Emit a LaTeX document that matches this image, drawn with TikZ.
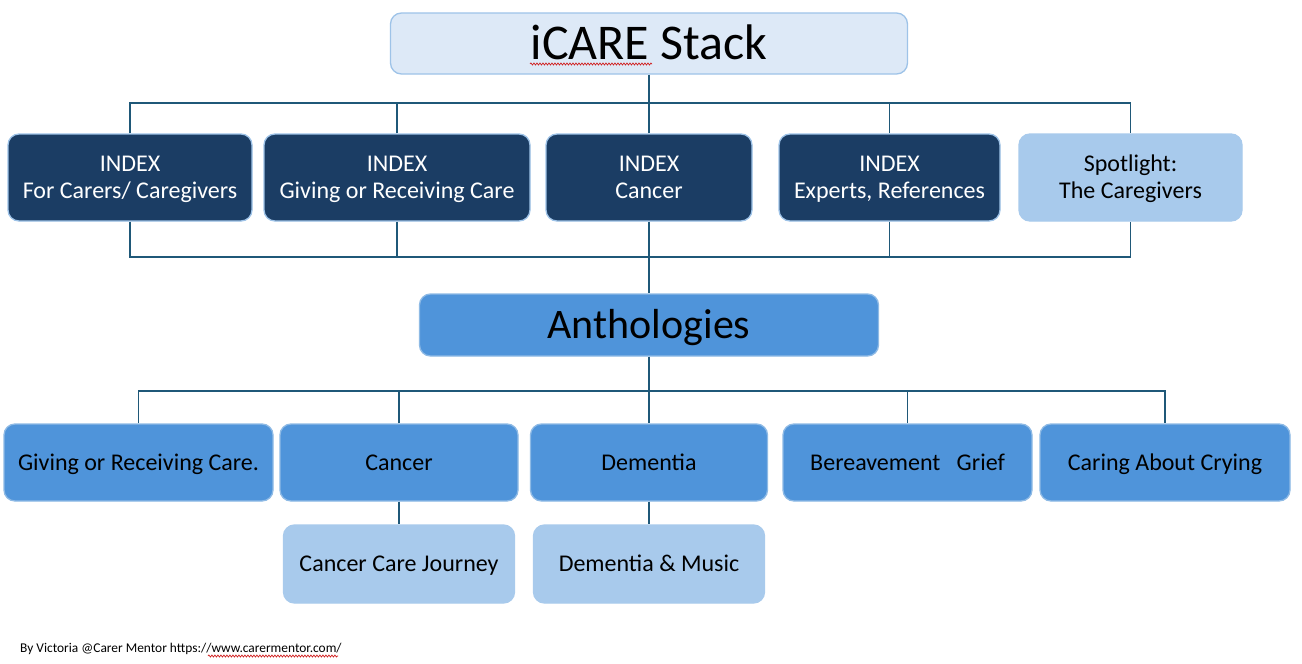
\documentclass[tikz,border=0pt]{standalone}
\usepackage{fontspec}
\setmainfont{Carlito}
\usetikzlibrary{decorations.pathmorphing}
\definecolor{navy}{HTML}{1B3D64}
\definecolor{midblue}{HTML}{4F94DA}
\definecolor{lightblue}{HTML}{A8CAEC}
\definecolor{paleblue}{HTML}{DDE9F7}
\definecolor{edgeblue}{HTML}{9EC3E8}
\definecolor{connblue}{HTML}{1F5878}
\definecolor{squig}{HTML}{D02020}
\newcommand{\capstrut}{\rule[-0.26em]{0pt}{1.16em}}
\newcommand{\topstrut}{\rule{0pt}{1em}}
\newcommand{\botstrut}{\rule[-0.36em]{0pt}{0pt}}
\begin{document}
\begin{tikzpicture}[x=1pt,y=-1pt,
  box/.style={rectangle,rounded corners=11pt,line width=1.3pt,draw=edgeblue,align=center,inner sep=0pt},
  titlebox/.style={box,fill=paleblue,font=\fontsize{50}{56}\selectfont},
  indexbox/.style={box,fill=navy,text=white,font=\fontsize{24}{27}\selectfont},
  spotbox/.style={box,fill=lightblue,draw=lightblue,text=black,font=\fontsize{24}{27}\selectfont},
  anthbox/.style={box,fill=midblue,draw=edgeblue!80!midblue,font=\fontsize{42}{48}\selectfont},
  catbox/.style={box,fill=midblue,draw=edgeblue!80!midblue,font=\fontsize{24}{28}\selectfont},
  subbox/.style={box,fill=lightblue,draw=lightblue,font=\fontsize{24}{28}\selectfont},
  conn/.style={draw=connblue,line width=1.8pt},
  spell/.style={draw=squig,line width=0.7pt,decorate,decoration={snake,amplitude=1pt,segment length=3pt}}]
\useasboundingbox (0,0) rectangle (1302,664);
\fill[white] (0,0) rectangle (1302,664);

% title
\node[titlebox,minimum width=517pt,minimum height=61pt] (title) at (649,43.5) {\capstrut iCARE Stack};

% row 1
\node[indexbox,minimum width=244pt,minimum height=87pt] (b1) at (130,177.5) {\topstrut INDEX\\\botstrut For Carers/ Caregivers};
\node[indexbox,minimum width=266pt,minimum height=87pt] (b2) at (397,177.5) {\topstrut INDEX\\\botstrut Giving or Receiving Care};
\node[indexbox,minimum width=206pt,minimum height=87pt] (b3) at (649,177.5) {\topstrut INDEX\\\botstrut Cancer};
\node[indexbox,minimum width=221pt,minimum height=87pt] (b4) at (889.5,177.5) {\topstrut INDEX\\\botstrut Experts, References};
\node[spotbox,minimum width=223pt,minimum height=87pt] (b5) at (1130.5,177.5) {\topstrut Spotlight:\\\botstrut The Caregivers};

% anthologies
\node[anthbox,minimum width=459pt,minimum height=62pt] (anth) at (649,325) {\capstrut Anthologies};

% row 2
\node[catbox,minimum width=269pt,minimum height=77pt] (c1) at (138.5,462.5) {\capstrut Giving or Receiving Care.};
\node[catbox,minimum width=238pt,minimum height=77pt] (c2) at (399,462.5) {\capstrut Cancer};
\node[catbox,minimum width=237pt,minimum height=77pt] (c3) at (649,462.5) {\capstrut Dementia};
\node[catbox,minimum width=249pt,minimum height=77pt] (c4) at (907.5,462.5) {\capstrut Bereavement\ \ \ Grief};
\node[catbox,minimum width=250pt,minimum height=77pt] (c5) at (1165,462.5) {\capstrut Caring About Crying};

% row 3
\node[subbox,minimum width=231pt,minimum height=78pt] (d1) at (399,564) {\capstrut Cancer Care Journey};
\node[subbox,minimum width=231pt,minimum height=78pt] (d2) at (649,564) {\capstrut Dementia \& Music};

% footer
\node[anchor=west,inner sep=0pt,font=\fontsize{13.4}{15}\selectfont] (foot) at (20,648) {\capstrut By Victoria @Carer Mentor https://www.carermentor.com/};

% connectors top
\coordinate (jt) at (649,103);
\draw[conn] (title.south) -- (jt);
\draw[conn] (b1.north) |- (jt) -| (b5.north);
\draw[conn] (b2.north) -- (b2.north |- jt);
\draw[conn] (b3.north) -- (b3.north |- jt);
\draw[conn] (b4.north) -- (b4.north |- jt);

% connectors bottom of row 1
\coordinate (jb) at (649,257);
\draw[conn] (b1.south) |- (jb) -| (b5.south);
\draw[conn] (b2.south) -- (b2.south |- jb);
\draw[conn] (b4.south) -- (b4.south |- jb);
\draw[conn] (b3.south) -- (anth.north);

% anthologies connectors
\coordinate (ja) at (649,391);
\draw[conn] (anth.south) -- (c3.north);
\draw[conn] (c1.north) |- (ja) -| (c5.north);
\draw[conn] (c2.north) -- (c2.north |- ja);
\draw[conn] (c4.north) -- (c4.north |- ja);

% row 3 connectors
\draw[conn] (c2.south) -- (d1.north);
\draw[conn] (c3.south) -- (d2.north);

% spellcheck squiggles
\coordinate (s1a) at (530,64); \coordinate (s1b) at (652,64);
\draw[spell] (s1a) -- (s1b);
\coordinate (s2a) at (208,656); \coordinate (s2b) at (338,656);
\draw[spell] (s2a) -- (s2b);
\end{tikzpicture}
\end{document}
